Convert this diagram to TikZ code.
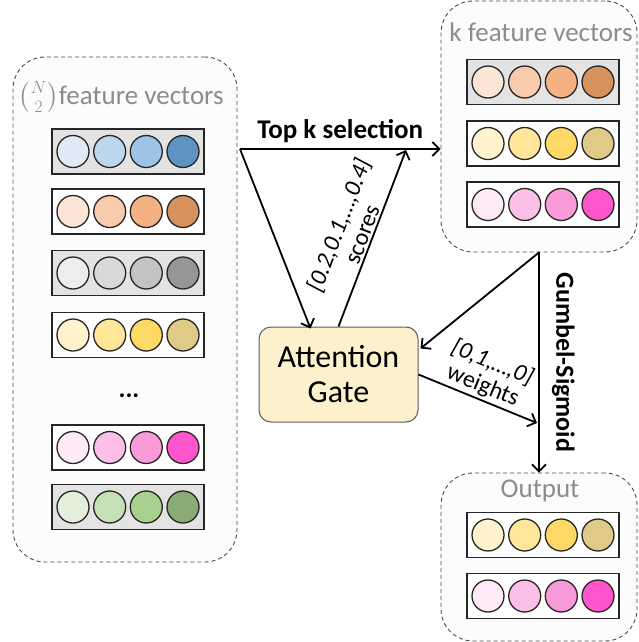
\documentclass[tikz,border=0pt]{standalone}
\usepackage{amsmath}
\usepackage{fontspec}
\setmainfont{Carlito}
\usetikzlibrary{arrows.meta,calc,positioning}

% palettes of the feature vectors
\definecolor{pblue1}{HTML}{DEEAF6}
\definecolor{pblue2}{HTML}{BDD7EE}
\definecolor{pblue3}{HTML}{9DC3E6}
\definecolor{pblue4}{HTML}{5E93C2}
\definecolor{porange1}{HTML}{FBE5D6}
\definecolor{porange2}{HTML}{F8CBAD}
\definecolor{porange3}{HTML}{F4B183}
\definecolor{porange4}{HTML}{D5925C}
\definecolor{pgray1}{HTML}{EDEDED}
\definecolor{pgray2}{HTML}{D9D9D9}
\definecolor{pgray3}{HTML}{C3C3C3}
\definecolor{pgray4}{HTML}{969696}
\definecolor{pyellow1}{HTML}{FFF2CC}
\definecolor{pyellow2}{HTML}{FFE699}
\definecolor{pyellow3}{HTML}{FFD966}
\definecolor{pyellow4}{HTML}{E0CA87}
\definecolor{ppink1}{HTML}{FFEAF8}
\definecolor{ppink2}{HTML}{FBBFE8}
\definecolor{ppink3}{HTML}{F99BD9}
\definecolor{ppink4}{HTML}{FF55CC}
\definecolor{pgreen1}{HTML}{E2EFDA}
\definecolor{pgreen2}{HTML}{C5E0B4}
\definecolor{pgreen3}{HTML}{A9D18E}
\definecolor{pgreen4}{HTML}{8AAA76}
\definecolor{rowgray}{HTML}{E3E3E3}
\definecolor{gatefill}{HTML}{FDF1CD}
\definecolor{titlegray}{HTML}{8C8C8C}

\tikzset{
  group/.style={draw=gray!60!black, dashed, dash pattern=on 4pt off 3pt,
    line width=0.9pt, fill=black!1, rounded corners=32pt, inner sep=0pt},
  grouptitle/.style={font=\fontsize{27}{29}\selectfont, text=titlegray},
  vecbox/.style={draw=black!85, line width=1.5pt, minimum width=152pt,
    minimum height=45pt, inner sep=0pt},
  dot/.style={circle, draw=black!85, line width=1.3pt, minimum size=32pt,
    inner sep=0pt},
  gatebox/.style={draw=black!65, line width=1pt, fill=gatefill,
    rounded corners=12pt, minimum width=159pt, minimum height=95pt,
    align=center, font=\fontsize{32}{35}\selectfont},
  flow/.style={line width=1.8pt, -{Straight Barb[length=7pt,width=14pt]}},
  flowlabel/.style={font=\fontsize{24}{25}\selectfont, align=center},
}

% one row of four coloured circles in a box
\newcommand{\featrow}[4]{%
  \node[vecbox, fill=#3] (#1) at (#2) {};
  \foreach \k/\dx in {1/-55,2/-18.3,3/18.3,4/55}
    \node[dot, fill=#4\k] (#1-\k) at ($(#1.center)+(\dx,0)$) {};
}

\begin{document}
\begin{tikzpicture}[x=1pt, y=-1pt]

  \useasboundingbox (0,0) rectangle (639,642);

  % ================================================================
  % Groups (dashed, rounded)
  % ================================================================

  \node[group, minimum width=224pt, minimum height=505pt]
    (allbox) at (125,309.5) {};
  \node[grouptitle] (alltitle) at (121,97)
    {$\bigl(\genfrac{}{}{0pt}{1}{N}{2}\bigr)$feature vectors};

  \node[group, minimum width=196pt, minimum height=251pt]
    (kbox) at (539,126.5) {};
  \node[grouptitle] (ktitle) at (541,32) {k feature vectors};

  \node[group, minimum width=196pt, minimum height=168pt]
    (outbox) at (539,557) {};
  \node[grouptitle] (outtitle) at (540,491) {Output};

  % ================================================================
  % Feature vectors
  % ================================================================

  \featrow{all1}{128,151.5}{rowgray}{pblue}
  \featrow{all2}{128,211.5}{white}{porange}
  \featrow{all3}{128,273}{rowgray}{pgray}
  \featrow{all4}{128,335}{white}{pyellow}
  \node[font=\fontsize{26}{28}\selectfont\bfseries] (alldots) at (129,396) {...};
  \featrow{all5}{128,447.5}{white}{ppink}
  \featrow{all6}{128,507}{rowgray}{pgreen}

  \featrow{k1}{543,82}{rowgray}{porange}
  \featrow{k2}{543,143.5}{white}{pyellow}
  \featrow{k3}{543,204.5}{white}{ppink}

  \featrow{out1}{543,535}{white}{pyellow}
  \featrow{out2}{543,596}{white}{ppink}

  % ================================================================
  % Attention Gate
  % ================================================================

  \node[gatebox] (gate) at (338.5,374.5) {Attention\\Gate};

  % ================================================================
  % Arrows
  % ================================================================

  \coordinate (split) at (240,149);
  \coordinate (scoretip) at (406,150);
  \coordinate (weighttip) at (537,423);

  % --- top k selection ---
  \draw[flow] (split) -- (split -| kbox.west)
    node[midway, above, inner sep=5pt, font=\fontsize{27}{29}\selectfont\bfseries]
    {Top k selection};

  % --- all vectors -> gate, gate -> scores ---
  \draw[flow] (split) -- ($(gate.north)+(-28,2)$);
  \draw[flow] (gate.north) -- (scoretip)
    node[pos=0.5, sloped, above, flowlabel, inner sep=2pt]
    {\textit{[0.2,0.1,…,0.4]}\\scores};

  % --- k vectors -> gate, gate -> weights ---
  \draw[flow] (kbox.south) -- ($(gate.east)+(2,-26)$);
  \draw[flow] (gate.east) -- (weighttip)
    node[pos=0.5, sloped, above, flowlabel, inner sep=2pt]
    {\textit{[0,1,…,0]}\\weights};

  % --- Gumbel-Sigmoid ---
  \draw[flow] (kbox.south) -- (outbox.north)
    node[midway, rotate=-90, anchor=south, inner sep=12pt,
      font=\fontsize{26}{28}\selectfont\bfseries] {Gumbel-Sigmoid};

\end{tikzpicture}
\end{document}
